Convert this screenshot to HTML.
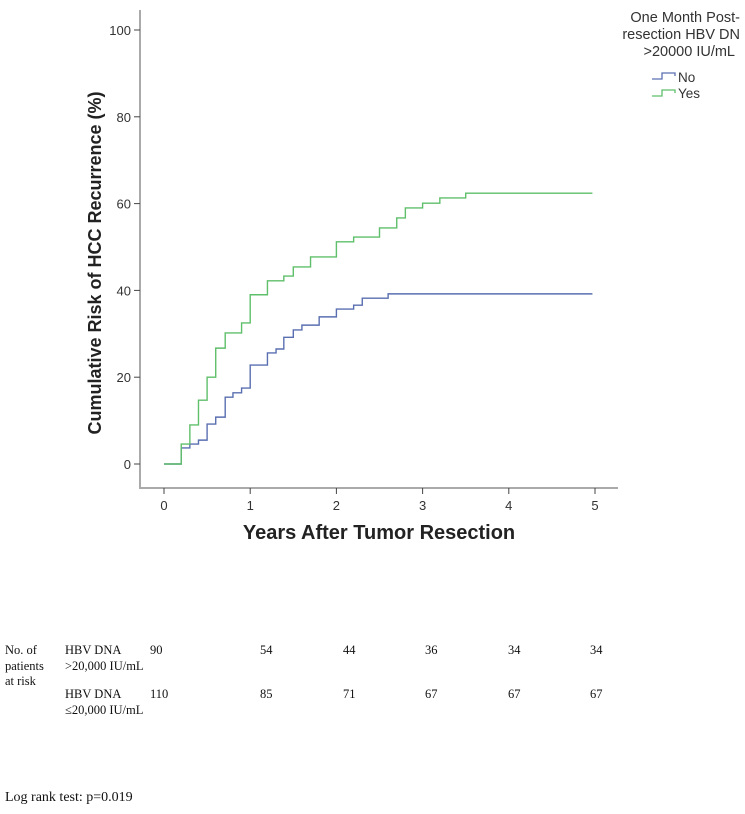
<!DOCTYPE html>
<html><head><meta charset="utf-8"><style>
body{margin:0;background:#fff;width:745px;height:809px;overflow:hidden}
svg text{font-family:"Liberation Sans",sans-serif}
.t{font-family:"Liberation Serif",serif;font-size:12.5px;fill:#111}
</style></head><body>
<svg width="745" height="809">
<g id="axes"></g>
<g id="series"></g>
<text x="-263" y="101" transform="rotate(-90)" text-anchor="middle" font-size="18" font-weight="bold" fill="#222">Cumulative Risk of HCC Recurrence (%)</text>
<text x="379" y="539" text-anchor="middle" font-size="20" font-weight="bold" fill="#222">Years After Tumor Resection</text>
<g>
<text x="740" y="22" text-anchor="end" font-size="14.5" fill="#333">One Month Post-</text>
<text x="740" y="39" text-anchor="end" font-size="14.5" fill="#333">resection HBV DN</text>
<text x="735" y="56" text-anchor="end" font-size="14.5" fill="#333">&gt;20000 IU/mL</text>
<path d="M652,79 H662 V73 H675 V76" fill="none" stroke="#5a6fb0" stroke-width="1.3"/>
<text x="678" y="82" font-size="13.5" fill="#333">No</text>
<path d="M652,96 H662 V90 H675 V93" fill="none" stroke="#5fbf6a" stroke-width="1.3"/>
<text x="678" y="98" font-size="13.5" fill="#333">Yes</text>
</g>
<g>
<text class="t" x="5" y="654">No. of</text>
<text class="t" x="5" y="670">patients</text>
<text class="t" x="5" y="685">at risk</text>
<text class="t" x="65" y="654">HBV DNA</text>
<text class="t" x="65" y="670">&gt;20,000 IU/mL</text>
<text class="t" x="65" y="698">HBV DNA</text>
<text class="t" x="65" y="714">≤20,000 IU/mL</text>
<g id="riskrows"></g>
</g>
<text x="5" y="801" font-size="14" fill="#111" style="font-family:'Liberation Serif',serif">Log rank test: p=0.019</text>
</svg>
<script>
const xTicks=[0,1,2,3,4,5];
const yTicks=[0,20,40,60,80,100];
const noTimes=[0,0.2,0.3,0.4,0.5,0.6,0.71,0.8,0.9,1.0,1.2,1.3,1.39,1.5,1.6,1.8,2.0,2.2,2.3,2.6,4.97];
const noValues=[0,3.7,4.6,5.5,9.2,10.8,15.4,16.4,17.5,22.8,25.6,26.5,29.2,30.9,32,33.9,35.7,36.6,38.2,39.2,39.2];
const yesTimes=[0,0.2,0.3,0.4,0.5,0.6,0.71,0.9,1.0,1.2,1.39,1.5,1.7,2.0,2.2,2.5,2.7,2.8,3.0,3.2,3.5,4.97];
const yesValues=[0,4.6,9,14.7,20,26.7,30.2,32.5,39,42.2,43.3,45.4,47.7,51.2,52.3,54.4,56.7,59,60.1,61.3,62.4,62.4];
const riskYes=[90,54,44,36,34,34];
const riskNo=[110,85,71,67,67,67];
const riskX=[150,260,343,425,508,590];
const NS='http://www.w3.org/2000/svg';
const X=t=>164+t*86.2, Y=v=>464-v*4.34;
function mk(tag,a,p){const e=document.createElementNS(NS,tag);for(const k in a)e.setAttribute(k,a[k]);p.appendChild(e);return e;}
const ax=document.getElementById('axes');
let e=mk('line',{x1:140,y1:10,x2:140,y2:488,stroke:'#aaa','stroke-width':2},ax);


e=mk('line',{x1:139,y1:488,x2:618,y2:488,stroke:'#aaa','stroke-width':2},ax);


yTicks.forEach(v=>{
 mk('line',{x1:134,x2:140,y1:Y(v),y2:Y(v),stroke:'#444'},ax);
 const t=mk('text',{x:131,y:Y(v)+5,'text-anchor':'end','font-size':13,fill:'#333'},ax);t.textContent=v;
 
 
});
xTicks.forEach(v=>{
 mk('line',{x1:X(v),x2:X(v),y1:488,y2:494,stroke:'#444'},ax);
 const t=mk('text',{x:X(v),y:510,'text-anchor':'middle','font-size':13,fill:'#333'},ax);t.textContent=v;
 
 
});
function step(ts,vs){let d='M'+X(ts[0])+','+Y(vs[0]);for(let i=1;i<ts.length;i++){d+=' H'+X(ts[i])+' V'+Y(vs[i]);}return d;}
const sg=document.getElementById('series');
e=mk('path',{d:step(noTimes,noValues),fill:'none',stroke:'#5a6fb0','stroke-width':1.4},sg);


e=mk('path',{d:step(yesTimes,yesValues),fill:'none',stroke:'#5fbf6a','stroke-width':1.4},sg);


const rr=document.getElementById('riskrows');
riskYes.forEach((v,i)=>{const t=mk('text',{class:'t',x:riskX[i],y:654},rr);t.textContent=v;
 
 });
riskNo.forEach((v,i)=>{const t=mk('text',{class:'t',x:riskX[i],y:698},rr);t.textContent=v;
 
 });
</script>
</body></html>
